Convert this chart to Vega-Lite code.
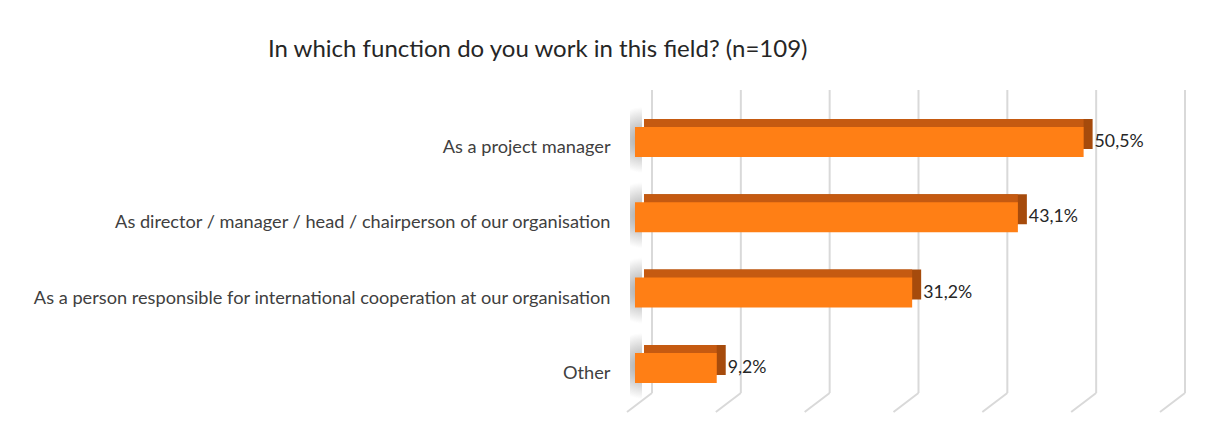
{
  "$schema": "https://vega.github.io/schema/vega-lite/v6.json",
  "width": 533,
  "height": 322,
  "autosize": {"type": "none"},
  "padding": {"left": 635, "top": 90, "right": 52, "bottom": 22},
  "background": "white",
  "config": {
    "locale": {"number": {"decimal": ",", "thousands": ".", "grouping": [3], "currency": ["", " €"]}},
    "view": {"stroke": null},
    "font": "Lato"
  },
  "title": {
    "text": "In which function do you work in this field? (n=109)",
    "anchor": "start",
    "frame": "group",
    "dx": -367,
    "fontSize": 24,
    "font": "Lato",
    "fontWeight": "normal",
    "color": "#262626",
    "offset": 27
  },
  "datasets": {
    "answers": [
      {"function": "As a project manager", "share": 0.505},
      {"function": "As director / manager / head / chairperson of our organisation", "share": 0.431},
      {"function": "As a person responsible for international cooperation at our organisation", "share": 0.312},
      {"function": "Other", "share": 0.092}
    ],
    "ticks": [{"t": 0}, {"t": 0.1}, {"t": 0.2}, {"t": 0.3}, {"t": 0.4}, {"t": 0.5}, {"t": 0.6}]
  },
  "layer": [
    {
      "data": {"name": "ticks"},
      "mark": {"type": "rule", "color": "#d9d9d9", "strokeWidth": 2, "xOffset": 17, "x2Offset": 17, "y2Offset": -19},
      "encoding": {
        "x": {"field": "t", "type": "quantitative", "scale": {"domain": [0, 0.6]}, "axis": null},
        "x2": {"field": "t"},
        "y": {"datum": 1, "type": "quantitative", "scale": {"domain": [0, 1]}, "axis": null},
        "y2": {"datum": 0}
      }
    },
    {
      "data": {"name": "ticks"},
      "mark": {"type": "rule", "color": "#d9d9d9", "strokeWidth": 2, "xOffset": 17, "x2Offset": -8, "yOffset": -19},
      "encoding": {
        "x": {"field": "t", "type": "quantitative", "scale": {"domain": [0, 0.6]}, "axis": null},
        "x2": {"field": "t"},
        "y": {"datum": 0, "type": "quantitative", "scale": {"domain": [0, 1]}, "axis": null},
        "y2": {"datum": 0}
      }
    },
    {
      "data": {"name": "answers"},
      "encoding": {
        "y": {
          "field": "function",
          "type": "nominal",
          "sort": null,
          "scale": {"paddingInner": 0, "paddingOuter": 0.137, "align": 0.69},
          "axis": {
            "title": null,
            "ticks": false,
            "domain": false,
            "grid": false,
            "labelPadding": 25,
            "labelFontSize": 18.2,
            "labelFont": "Lato",
            "labelColor": "#404040",
            "labelOffset": 6,
            "labelLimit": 700
          }
        },
        "x": {"field": "share", "type": "quantitative", "scale": {"domain": [0, 0.6]}, "axis": null}
      },
      "layer": [
        {
          "mark": {
            "type": "bar",
            "height": 66,
            "xOffset": -5,
            "x2Offset": 7,
            "yOffset": -2,
            "opacity": 0.8,
            "color": {
              "gradient": "radial",
              "x1": 0.6, "y1": 0.5, "x2": 0.6, "y2": 0.5, "r1": 0, "r2": 0.5,
              "stops": [
                {"offset": 0, "color": "#8c8c8c"},
                {"offset": 0.6, "color": "#cfcfcf"},
                {"offset": 1, "color": "#ffffff"}
              ]
            }
          },
          "encoding": {"x": {"datum": 0, "type": "quantitative"}, "x2": {"datum": 0}}
        },
        {
          "mark": {"type": "bar", "height": 30, "color": "#A64B0C", "xOffset": 9, "x2Offset": 9, "yOffset": -8},
          "encoding": {"x2": {"datum": 0}}
        },
        {
          "mark": {"type": "bar", "height": 30, "color": "#C55A11", "xOffset": 0, "x2Offset": 9, "yOffset": -8},
          "encoding": {"x2": {"datum": 0}}
        },
        {
          "mark": {"type": "bar", "height": 30, "color": "#FF7F15"},
          "encoding": {"x2": {"datum": 0}}
        },
        {
          "mark": {"type": "text", "align": "left", "baseline": "middle", "dx": 11, "fontSize": 17.7, "font": "Lato", "color": "#262626"},
          "encoding": {"text": {"field": "share", "type": "quantitative", "format": ".1%"}}
        }
      ]
    }
  ],
  "resolve": {"scale": {"y": "independent"}}
}
